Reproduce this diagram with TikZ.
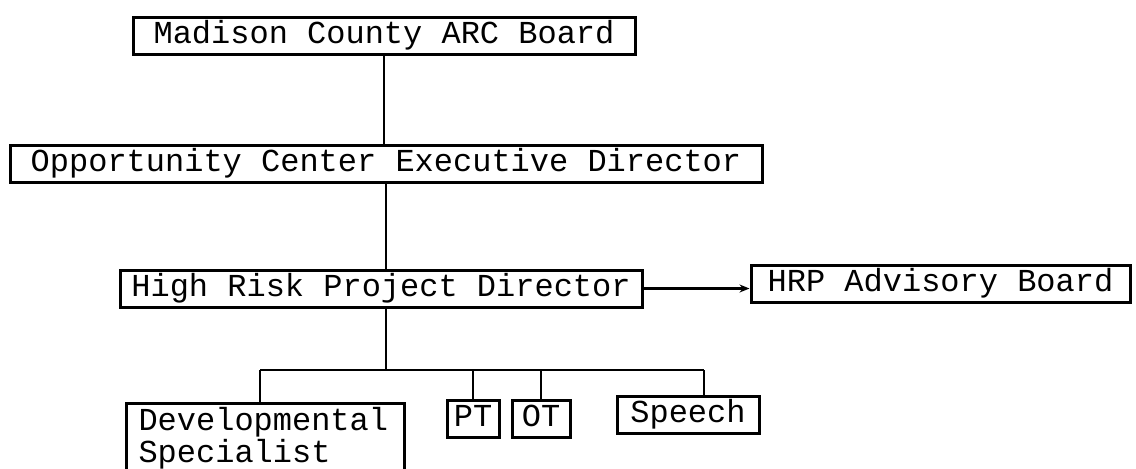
\documentclass[tikz,border=0pt]{standalone}
\usepackage{fontspec}
\setmonofont{Liberation Mono}
\usetikzlibrary{arrows.meta}

\begin{document}
\begin{tikzpicture}[x=0.5pt,y=-0.5pt,
    box/.style={draw,line width=1.5pt,inner sep=0pt,
        font=\ttfamily\fontsize{16}{16}\selectfont,
        text height=13pt,text depth=5.5pt},
    link/.style={line width=1.3pt}]
    \useasboundingbox (0,0) rectangle (1136,468);
    % boxes
    \node[box,minimum width=251pt] (arc) at (384,35.5) {Madison County ARC Board};
    \node[box,minimum width=376pt] (oced) at (386,163.5) {Opportunity Center Executive Director};
    \node[box,minimum width=261pt] (hrpd) at (381,288.5) {High Risk Project Director};
    \node[box,minimum width=189.5pt] (hrpab) at (940.5,284) {HRP Advisory Board};
    \node[box,anchor=north west,align=left,text width=127pt,inner xsep=6pt,
        text height=13.5pt,text depth=24pt] (dev) at (125,402) {Developmental\\Specialist};
    \node[box,minimum width=26pt] (pt) at (473,418.5) {PT};
    \node[box,minimum width=29pt] (ot) at (541,418.5) {OT};
    \node[box,minimum width=71pt] (speech) at (688,414.5) {Speech};
    % lines
    \coordinate (busl) at (260,370);
    \coordinate (busr) at (704,370);
    \draw[link] (arc.south) -- (arc.south |- oced.north);
    \draw[link] (oced.south) -- (oced.south |- hrpd.north);
    \draw[link] (hrpd.south -| oced.south) -- (oced.south |- busl);
    \draw[link,-{Stealth[length=5pt,width=4pt]}] (hrpd.east) -- (hrpd.east -| hrpab.west);
    \draw[link] (busl) -- (busr);
    \draw[link] (busl) -- (busl |- dev.north);
    \draw[link] (pt.north |- busl) -- (pt.north);
    \draw[link] (ot.north |- busl) -- (ot.north);
    \draw[link] (busr) -- (busr |- speech.north);
\end{tikzpicture}
\end{document}
